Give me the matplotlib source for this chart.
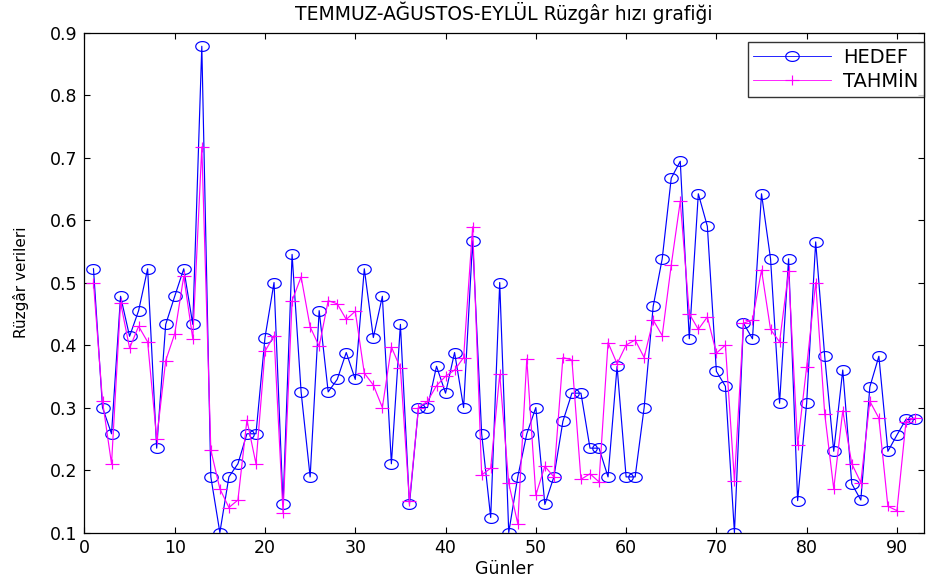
import numpy as np
import matplotlib
matplotlib.use("Agg")
import matplotlib.pyplot as plt
from matplotlib.path import Path

plt.rcParams['font.family'] = ['DejaVu Sans']

# gunler 1..92
gunler = list(range(1, 93))

hedef = [0.522, 0.300, 0.258, 0.478, 0.414, 0.455, 0.522, 0.235, 0.433, 0.478,
         0.522, 0.433, 0.878, 0.189, 0.100, 0.189, 0.210, 0.258, 0.258, 0.412,
         0.500, 0.145, 0.545, 0.325, 0.189, 0.455, 0.325, 0.345, 0.388, 0.345,
         0.522, 0.412, 0.478, 0.210, 0.433, 0.145, 0.300, 0.300, 0.366, 0.323,
         0.388, 0.300, 0.567, 0.258, 0.124, 0.500, 0.100, 0.189, 0.258, 0.300,
         0.145, 0.189, 0.278, 0.323, 0.323, 0.235, 0.235, 0.189, 0.366, 0.189,
         0.189, 0.300, 0.462, 0.538, 0.667, 0.694, 0.410, 0.642, 0.590, 0.358,
         0.334, 0.100, 0.435, 0.410, 0.642, 0.538, 0.307, 0.538, 0.151, 0.307,
         0.565, 0.382, 0.230, 0.360, 0.178, 0.152, 0.333, 0.382, 0.230, 0.256,
         0.281, 0.281]

tahmin = [0.500, 0.310, 0.210, 0.468, 0.395, 0.430, 0.405, 0.250, 0.375, 0.418,
          0.510, 0.410, 0.717, 0.232, 0.170, 0.140, 0.152, 0.280, 0.210, 0.390,
          0.415, 0.131, 0.471, 0.509, 0.429, 0.398, 0.471, 0.466, 0.441, 0.454,
          0.355, 0.336, 0.300, 0.397, 0.363, 0.150, 0.300, 0.310, 0.335, 0.350,
          0.360, 0.380, 0.589, 0.192, 0.203, 0.353, 0.179, 0.114, 0.378, 0.160,
          0.206, 0.189, 0.380, 0.376, 0.185, 0.194, 0.181, 0.404, 0.370, 0.400,
          0.408, 0.380, 0.440, 0.415, 0.528, 0.630, 0.450, 0.425, 0.445, 0.387,
          0.400, 0.183, 0.435, 0.440, 0.520, 0.425, 0.405, 0.518, 0.240, 0.365,
          0.500, 0.290, 0.170, 0.295, 0.210, 0.180, 0.310, 0.283, 0.142, 0.135,
          0.277, 0.283]

# stretched markers (the original figure was widened)
t = np.linspace(0, 2 * np.pi, 60)
ellipse = Path(np.column_stack([1.37 * np.cos(t), np.sin(t)]), closed=True)
plus = Path([(-1.4, 0), (1.4, 0), (0, -1), (0, 1)],
            [Path.MOVETO, Path.LINETO, Path.MOVETO, Path.LINETO])

fig = plt.figure(figsize=(9.28, 5.85), dpi=100)
ax = fig.add_axes([0.091, 0.0897, 0.9047, 0.8547])

ax.plot(gunler, hedef, color='#0000ff', lw=0.85, marker=ellipse, markersize=9.7,
        markerfacecolor='none', markeredgecolor='#0000ff', markeredgewidth=0.85,
        label='HEDEF')
ax.plot(gunler, tahmin, color='#ff00ff', lw=0.85, marker=plus, markersize=10,
        markeredgewidth=0.85, label='TAHMİN')

ax.set_xlim(0, 93)
ax.set_ylim(0.1, 0.9)
ax.set_xticks(range(0, 91, 10))
ax.set_yticks(np.arange(0.1, 0.91, 0.1))
ax.set_yticklabels(['%.1f' % v for v in np.arange(0.1, 0.91, 0.1)])
ax.tick_params(direction='in', top=True, right=True, length=4, labelsize=12.5,
               pad=5)
for s in ax.spines.values():
    s.set_linewidth(0.9)

ax.set_title('TEMMUZ-AĞUSTOS-EYLÜL Rüzgâr hızı grafiği', fontsize=13.5, pad=9)
ax.set_xlabel('Günler', fontsize=12.5, labelpad=2)
ax.set_ylabel('Rüzgâr verileri', fontsize=11, labelpad=15)

leg = ax.legend(loc='upper right', bbox_to_anchor=(924 / 928, 1 - 42 / 585),
                bbox_transform=fig.transFigure, borderaxespad=0,
                fontsize=14, frameon=True, fancybox=False, edgecolor='black',
                handlelength=4.0, handletextpad=0.6, borderpad=0.3,
                labelspacing=0.25, numpoints=1)
leg.get_frame().set_linewidth(1.0)
for ln in leg.get_lines():
    ln.set_linewidth(0.6)

fig.savefig('out.png', dpi=100)
